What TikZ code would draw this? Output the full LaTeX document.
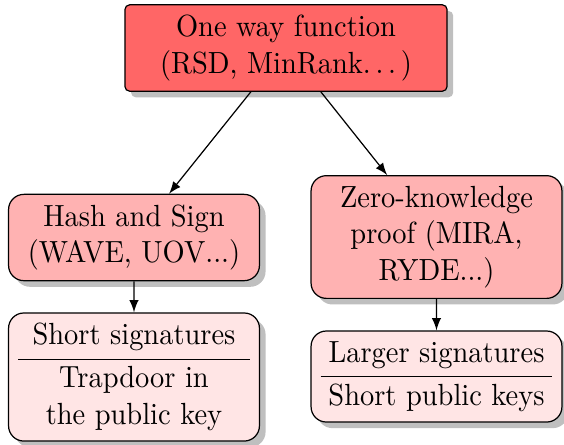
\documentclass[tikz,border=0pt]{standalone}
\usetikzlibrary{shadows,arrows}
% spaced ellipsis, as in the classic text \dots
\newcommand{\spdots}{.\kern\fontdimen3\font.\kern\fontdimen3\font.\kern\fontdimen3\font}
\begin{document}
\begin{tikzpicture}[x=0.35140pt,y=-0.3268pt,xscale=0.93,
  base/.style={draw, align=center, inner sep=3.33pt, transform shape,
    drop shadow={fill=black, opacity=0.25, shadow xshift=2pt, shadow yshift=-2pt}},
  topbox/.style={base, fill=red!60, rounded corners=1.5pt, text width=106.5pt},
  methodbox/.style={base, fill=red!30, rounded corners=5pt, text width=81.5pt},
  propbox/.style={base, fill=red!10, rounded corners=5pt, text width=81.5pt},
  link/.style={-latex}]
  \useasboundingbox (0,0) rectangle (564,444);

  \node[topbox] (owf) at (286,48) {One way function\\(RSD, MinRank\spdots)};
  \node[methodbox] (hs) at (134,237.5) {Hash and Sign\\(WAVE, UOV...)};
  \node[methodbox] (zk) at (436.5,237) {Zero-knowledge proof (MIRA, RYDE...)};
  \node[propbox] (hsprop) at (134,377)
    {Short signatures\par\vskip2.5pt\hrule\vskip2.2pt Trapdoor in\\the public key};
  \node[propbox] (zkprop) at (436.5,376.5)
    {Larger signatures\par\vskip2.5pt\hrule\vskip2.2pt Short public keys};

  \draw[link] (owf) -- (hs);
  \draw[link] (owf) -- (zk);
  \draw[link] (hs) -- (hsprop);
  \draw[link] (zk) -- (zkprop);
\end{tikzpicture}
\end{document}
